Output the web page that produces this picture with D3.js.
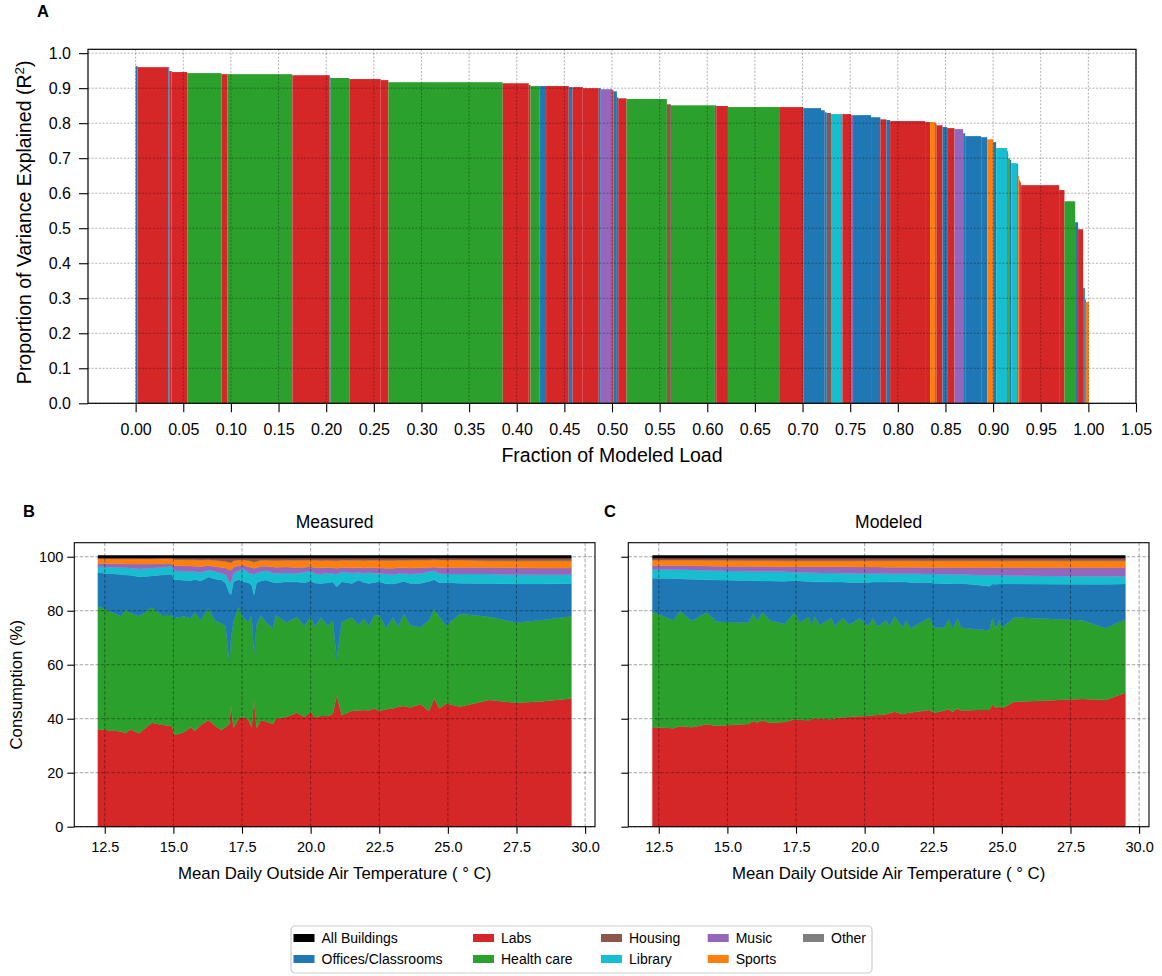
<!DOCTYPE html>
<html>
<head>
<meta charset="utf-8">
<script src="https://cdn.jsdelivr.net/npm/d3@7"></script>
<style>
  body { margin: 0; background: #fff; }
  svg { display: block; font-family: "Liberation Sans", Arial, sans-serif; }
</style>
</head>
<body>
<svg width="1162" height="976"></svg>
<script>
// ---------------- data ----------------
const legendOrder = ["All Buildings", "Offices/Classrooms", "Labs", "Health care", "Housing",
                     "Library", "Music", "Sports", "Other"];
const stackKeys = ["Labs", "Health care", "Offices/Classrooms", "Library", "Music", "Sports", "Housing"];

// panel A: one bar per building, sorted by R^2 (width = fraction of modeled load)
const barCategory = ["O","L","O","L","L","H","L","H","L","O","H","L","L","H","L","L","H","O","L","O",
  "L","L","O","M","L","O","O","L","H","Ho","H","O","L","H","L","O","O","O","Ho","Li",
  "L","M","O","O","L","O","L","L","S","Ho","L","O","L","M","O","O","O","S","O","Li",
  "O","H","O","Li","O","S","L","L","L","L","H","O","L","O","O","S"];
const barWidth = [0.0020,0.0323,0.0010,0.0024,0.0165,0.0360,0.0063,0.0680,0.0392,0.0010,
  0.0196,0.0329,0.0081,0.1200,0.0273,0.0018,0.0098,0.0066,0.0238,0.0039,
  0.0108,0.0168,0.0021,0.0119,0.0015,0.0035,0.0014,0.0088,0.0423,0.0042,
  0.0462,0.0014,0.0123,0.0546,0.0245,0.0186,0.0039,0.0021,0.0045,0.0119,
  0.0091,0.0021,0.0189,0.0098,0.0063,0.0039,0.0367,0.0053,0.0053,0.0014,
  0.0063,0.0049,0.0077,0.0091,0.0021,0.0168,0.0063,0.0063,0.0031,0.0116,
  0.0010,0.0018,0.0014,0.0063,0.0010,0.0011,0.0010,0.0010,0.0399,0.0056,
  0.0112,0.0031,0.0053,0.0018,0.0010,0.0032];
const barR2 = [0.963,0.960,0.960,0.949,0.946,0.943,0.940,0.940,0.937,0.931,
  0.929,0.926,0.923,0.917,0.914,0.909,0.906,0.906,0.906,0.903,
  0.903,0.900,0.900,0.897,0.894,0.891,0.874,0.871,0.869,0.854,
  0.851,0.851,0.849,0.846,0.846,0.843,0.837,0.831,0.829,0.826,
  0.826,0.823,0.823,0.817,0.811,0.809,0.806,0.803,0.803,0.800,
  0.794,0.789,0.786,0.783,0.771,0.763,0.760,0.754,0.746,0.729,
  0.720,0.700,0.695,0.686,0.684,0.649,0.637,0.631,0.623,0.609,
  0.577,0.517,0.497,0.329,0.297,0.289];
const fracTicks = [0.00,0.05,0.10,0.15,0.20,0.25,0.30,0.35,0.40,0.45,0.50,0.55,
                   0.60,0.65,0.70,0.75,0.80,0.85,0.90,0.95,1.00,1.05];
const r2Ticks = [0.0,0.1,0.2,0.3,0.4,0.5,0.6,0.7,0.8,0.9,1.0];

// panel B: measured share of consumption (%) by mean daily temperature
const measuredTemp = [12.25,13.1,13.25,13.44,13.75,14.22,14.56,14.94,15.03,15.38,15.63,15.78,16.0,16.28,
  16.5,16.75,16.9,17.04,17.1,17.19,17.38,17.53,17.73,17.85,17.94,18.03,18.19,18.38,18.63,18.73,
  19.13,19.5,19.78,20.0,20.15,20.38,20.63,20.81,20.95,21.13,21.5,21.75,21.94,22.13,22.31,22.5,
  22.75,23.0,23.19,23.38,23.63,24.0,24.31,24.5,24.69,24.94,25.44,26.5,27.5,28.38,29.5];
const measuredLabs = [36.1,35.3,34.6,36.1,34.6,38.5,37.8,37.3,34.0,35.0,36.8,35.5,37.7,39.5,
  37.5,35.8,36.8,38.0,45.0,36.5,40.1,40.7,39.5,36.8,46.9,36.5,39.5,39.0,38.0,40.0,
  40.7,42.2,40.5,42.6,40.5,41.0,41.0,41.8,48.7,41.3,42.9,43.0,43.2,43.0,43.8,42.9,
  43.5,43.8,44.4,44.7,44.2,45.4,42.9,47.5,43.8,45.6,44.4,46.9,45.9,46.4,47.5];
const measuredHealth = [45.6,42.7,45.9,43.1,43.4,42.7,40.6,41.1,43.2,43.0,40.4,43.8,38.8,41.4,
  39.0,39.5,37.5,23.0,25.0,39.5,41.4,36.8,36.4,41.5,17.1,38.5,38.8,36.6,35.5,38.3,
  34.9,35.6,33.8,35.4,33.6,36.5,33.3,34.7,13.5,34.6,34.6,31.7,33.8,31.3,34.4,35.4,
  30.0,33.7,29.6,34.1,30.5,28.4,33.6,33.1,34.0,28.9,34.4,30.9,29.7,30.1,30.5];
const measuredOffices = [12.4,15.4,12.7,13.9,14.6,11.7,14.8,15.1,14.4,13.3,13.9,12.3,14.5,11.6,
  15.3,16.1,16.1,25.5,16.0,14.7,10.1,13.3,14.5,11.2,21.8,15.4,12.7,15.8,17.0,12.0,
  15.1,12.8,16.1,13.1,16.2,12.6,16.1,14.1,26.7,14.8,12.6,16.7,13.5,15.8,12.3,12.4,
  16.5,12.4,16.3,12.1,15.4,16.3,14.3,10.9,12.6,15.9,11.4,12.3,14.3,13.4,12.1];
const measuredLibrary = [2.2,2.6,2.7,2.7,2.9,2.9,2.8,3.0,3.2,3.3,3.4,2.8,3.2,2.5,
  2.8,2.4,3.1,4.0,4.3,3.3,3.2,4.8,3.7,4.3,7.7,3.6,3.5,3.4,3.5,3.6,
  3.3,3.3,3.9,3.7,3.5,3.5,3.6,3.2,4.6,3.7,3.9,2.8,3.3,4.1,3.4,3.1,
  3.6,3.4,3.5,2.9,3.5,3.7,3.6,3.3,3.4,3.2,3.4,3.5,3.4,3.4,3.2];
const measuredMusic = [1.2,1.4,1.4,1.5,1.8,1.5,1.3,0.8,2.0,2.0,2.1,2.1,2.2,1.7,
  1.8,2.2,2.3,4.7,4.8,2.2,1.9,1.3,2.2,2.2,2.2,2.0,2.0,1.7,2.2,2.2,
  2.2,2.1,1.8,1.5,2.2,2.3,2.0,2.1,2.2,1.6,1.9,1.8,2.0,1.8,2.0,2.1,
  2.1,2.4,2.1,2.1,2.2,2.1,1.6,1.4,2.1,2.4,2.4,2.4,2.6,2.5,2.5];
const measuredSports = [1.8,1.9,2.0,2.0,2.0,2.0,2.1,2.1,2.2,2.3,2.3,2.4,2.4,2.2,
  2.3,2.4,2.5,2.7,2.7,2.3,2.1,2.0,2.3,2.3,2.3,2.3,2.2,2.2,2.4,2.5,
  2.5,2.7,2.6,2.5,2.7,2.7,2.7,2.7,2.8,2.7,2.8,2.7,2.8,2.7,2.8,2.8,
  2.9,2.9,2.8,2.8,2.9,2.9,2.8,2.7,2.9,2.8,2.8,2.5,2.6,2.7,2.7];
const measuredHousing = [0.7,0.7,0.7,0.7,0.7,0.7,0.6,0.6,1.0,1.1,1.1,1.1,1.2,1.1,
  1.3,1.6,1.7,2.1,2.2,1.5,1.2,1.1,1.4,1.7,2.0,1.7,1.3,1.3,1.4,1.4,
  1.3,1.3,1.3,1.2,1.3,1.4,1.3,1.4,1.5,1.3,1.3,1.3,1.4,1.3,1.3,1.3,
  1.4,1.4,1.3,1.3,1.3,1.2,1.2,1.1,1.2,1.2,1.2,1.5,1.5,1.5,1.5];

// panel C: modeled share of consumption (%)
const modeledTemp = [12.27,13.03,13.28,13.7,14.24,14.61,15.76,15.94,16.08,16.28,16.54,17.09,17.45,17.63,
  17.97,18.06,18.18,18.36,18.79,18.91,19.21,19.45,19.81,20.12,20.3,20.48,20.78,20.9,21.09,21.39,
  21.51,21.69,22.36,22.54,22.9,23.06,23.21,23.39,23.51,24.05,24.54,24.66,24.78,24.9,25.02,25.45,
  27.93,28.78,29.5];
const modeledLabs = [36.8,36.5,37.2,36.8,37.9,37.4,38.0,39.1,38.6,39.3,38.5,38.8,39.8,39.6,
  39.4,39.9,40.0,40.1,39.8,40.2,40.5,40.6,40.9,41.0,41.3,41.4,41.7,42.0,42.6,41.7,
  42.0,42.3,43.2,42.2,43.0,43.4,42.6,43.8,43.0,43.2,43.2,45.3,44.0,44.5,44.0,46.3,
  47.3,46.9,49.6];
const modeledHealth = [42.8,40.0,42.7,39.4,41.4,38.5,37.6,39.9,37.6,40.1,38.0,36.3,39.5,36.0,
  38.4,34.8,38.0,34.6,37.4,34.1,36.7,34.1,36.3,33.3,35.9,32.7,34.8,32.1,35.4,32.1,
  34.3,31.2,34.3,31.6,30.8,33.4,30.9,33.4,30.8,29.9,29.6,32.2,29.5,32.0,29.8,31.2,
  29.2,26.6,27.2];
const modeledOffices = [12.4,15.4,11.9,15.5,12.2,15.5,15.6,12.1,14.9,11.6,14.5,15.8,11.9,15.4,
  13.0,16.1,12.7,16.0,13.4,16.3,13.4,15.8,13.3,16.2,13.4,16.5,14.1,16.5,12.7,16.8,
  14.3,17.0,12.9,16.4,16.2,13.2,16.6,12.9,16.3,16.5,16.3,12.4,16.3,13.4,16.1,12.4,
  13.3,16.3,13.1];
const modeledLibrary = [3.3,3.3,3.4,3.4,3.4,3.4,3.4,3.4,3.4,3.5,3.5,3.5,3.1,3.2,
  3.3,3.3,3.4,3.3,3.4,3.4,3.3,3.4,3.3,3.3,3.2,3.2,3.1,3.1,3.0,3.1,
  3.1,3.2,3.2,3.4,3.5,3.5,3.3,3.3,3.3,3.6,4.0,3.2,3.3,3.2,3.2,3.1,
  3.0,3.0,2.9];
const modeledMusic = [1.5,1.6,1.6,1.6,1.7,1.7,1.8,1.9,1.9,1.9,1.8,1.9,2.0,2.1,
  2.2,2.2,2.2,2.3,2.3,2.3,2.4,2.4,2.4,2.4,2.4,2.4,2.4,2.4,2.4,2.4,
  2.4,2.4,2.4,2.4,2.5,2.5,2.6,2.6,2.6,2.8,2.9,2.9,2.9,2.9,2.9,3.0,
  3.2,3.2,3.2];
const modeledSports = [2.0,2.0,2.0,2.1,2.1,2.2,2.2,2.2,2.2,2.2,2.3,2.2,2.2,2.2,
  2.2,2.2,2.2,2.2,2.2,2.2,2.2,2.2,2.3,2.3,2.3,2.3,2.4,2.4,2.4,2.4,
  2.4,2.4,2.5,2.5,2.5,2.5,2.5,2.5,2.5,2.5,2.5,2.5,2.5,2.5,2.5,2.5,
  2.5,2.5,2.5];
const modeledHousing = [1.2,1.2,1.2,1.2,1.3,1.3,1.4,1.4,1.4,1.4,1.4,1.5,1.5,1.5,
  1.5,1.5,1.5,1.5,1.5,1.5,1.5,1.5,1.5,1.5,1.5,1.5,1.5,1.5,1.5,1.5,
  1.5,1.5,1.5,1.5,1.5,1.5,1.5,1.5,1.5,1.5,1.5,1.5,1.5,1.5,1.5,1.5,
  1.5,1.5,1.5];
const tempTicks = [12.5,15.0,17.5,20.0,22.5,25.0,27.5,30.0];
const pctTicks = [0,20,40,60,80,100];

// ---------------- styling ----------------
const catColor = {
  "All Buildings": "#000000", "Offices/Classrooms": "#1f77b4", "Labs": "#d62728",
  "Health care": "#2ca02c", "Housing": "#8c564b", "Library": "#17becf",
  "Music": "#9467bd", "Sports": "#ff7f0e", "Other": "#7f7f7f"
};
const barCode = {O: "Offices/Classrooms", L: "Labs", H: "Health care", Ho: "Housing",
                 Li: "Library", M: "Music", S: "Sports"};

const svg = d3.select("svg");
svg.append("rect").attr("width", 1162).attr("height", 976).attr("fill", "#fff");

function styleAxis(g, size) {
  g.select(".domain").remove();
  g.selectAll(".tick line").attr("stroke", "#000").attr("stroke-width", 1.1);
  g.selectAll(".tick text").attr("fill", "#000").attr("font-size", size)
    .attr("font-family", "'Liberation Sans', Arial, sans-serif");
}

// ---------------- panel A ----------------
const A = {left: 88, right: 1136, top: 49.3, bottom: 403.3};
const xA = d3.scaleLinear().domain([-0.05, 1.05]).range([A.left, A.right]);
const yA = d3.scaleLinear().domain([0, 1.011]).range([A.bottom, A.top]);
const gA = svg.append("g");

const starts = d3.cumsum(barWidth).map((c, i) => c - barWidth[i]);
const bars = barR2.map((r, i) => ({cat: barCode[barCategory[i]], x0: starts[i], w: barWidth[i], r2: r}));

gA.selectAll("rect.bar")
  .data(bars)
  .join("rect")
    .attr("class", "bar")
    .attr("x", d => xA(d.x0))
    .attr("width", d => xA(d.x0 + d.w) - xA(d.x0))
    .attr("y", d => yA(d.r2))
    .attr("height", d => yA(0) - yA(d.r2))
    .attr("fill", d => catColor[d.cat]);

// grid on top of bars
gA.append("g").selectAll("line")
  .data(fracTicks)
  .join("line")
    .attr("x1", d => xA(d)).attr("x2", d => xA(d))
    .attr("y1", A.top).attr("y2", A.bottom)
    .attr("stroke", "#000").attr("stroke-opacity", 0.35)
    .attr("stroke-width", 0.9).attr("stroke-dasharray", "2,1.6");
gA.append("g").selectAll("line")
  .data(r2Ticks)
  .join("line")
    .attr("x1", A.left).attr("x2", A.right)
    .attr("y1", d => yA(d)).attr("y2", d => yA(d))
    .attr("stroke", "#000").attr("stroke-opacity", 0.35)
    .attr("stroke-width", 0.9).attr("stroke-dasharray", "2,1.6");

gA.append("g")
  .attr("transform", `translate(0,${A.bottom})`)
  .call(d3.axisBottom(xA).tickValues(fracTicks).tickFormat(d3.format(".2f")).tickSize(9).tickPadding(11))
  .call(g => styleAxis(g, 16));
gA.append("g")
  .attr("transform", `translate(${A.left},0)`)
  .call(d3.axisLeft(yA).tickValues(r2Ticks).tickFormat(d3.format(".1f")).tickSize(9).tickPadding(8))
  .call(g => styleAxis(g, 16));

gA.append("rect")
  .attr("x", A.left).attr("y", A.top)
  .attr("width", A.right - A.left).attr("height", A.bottom - A.top)
  .attr("fill", "none").attr("stroke", "#000").attr("stroke-width", 1.2);

gA.append("text")
  .attr("x", (A.left + A.right) / 2).attr("y", 462)
  .attr("text-anchor", "middle").attr("font-size", 19.5)
  .text("Fraction of Modeled Load");

const yLabA = gA.append("text")
  .attr("transform", `translate(31,${(A.top + A.bottom) / 2 - 4}) rotate(-90)`)
  .attr("text-anchor", "middle").attr("font-size", 19.5);
yLabA.append("tspan").text("Proportion of Variance Explained (R");
yLabA.append("tspan").attr("dy", -7).attr("font-size", 13.5).text("2");
yLabA.append("tspan").attr("dy", 7).text(")");

svg.append("text").attr("x", 37).attr("y", 17)
  .attr("font-size", 16.5).attr("font-weight", "bold").text("A");

// ---------------- panels B and C ----------------
function stackPanel(left, title, letter, letterX, temps, series, showYLabels) {
  const P = {left: left, right: left + 520.7, top: 542.7, bottom: 826.7};
  const x = d3.scaleLinear().domain([11.39, 30.36]).range([P.left, P.right]);
  const y = d3.scaleLinear().domain([0, 105.2]).range([P.bottom, P.top]);
  const g = svg.append("g");

  const rows = temps.map((t, i) => {
    const r = {t: t};
    stackKeys.forEach(k => r[k] = series[k][i]);
    return r;
  });
  const layers = d3.stack().keys(stackKeys)(rows);

  const area = d3.area()
    .x(d => x(d.data.t))
    .y0(d => y(d[0]))
    .y1(d => y(d[1]));

  g.selectAll("path.layer")
    .data(layers)
    .join("path")
      .attr("class", "layer")
      .attr("d", area)
      .attr("fill", d => catColor[d.key])
      .attr("stroke", d => catColor[d.key])
      .attr("stroke-width", 0.4);

  // all buildings total
  g.append("path")
    .datum(layers[layers.length - 1])
    .attr("d", d3.line().x(d => x(d.data.t)).y(d => y(d[1])))
    .attr("fill", "none")
    .attr("stroke", catColor["All Buildings"])
    .attr("stroke-width", 3);

  // grid
  g.append("g").selectAll("line")
    .data(tempTicks)
    .join("line")
      .attr("x1", d => x(d)).attr("x2", d => x(d))
      .attr("y1", P.top).attr("y2", P.bottom)
      .attr("stroke", "#000").attr("stroke-opacity", 0.4)
      .attr("stroke-width", 0.9).attr("stroke-dasharray", "3.5,1.8");
  g.append("g").selectAll("line")
    .data(pctTicks)
    .join("line")
      .attr("x1", P.left).attr("x2", P.right)
      .attr("y1", d => y(d)).attr("y2", d => y(d))
      .attr("stroke", "#000").attr("stroke-opacity", 0.4)
      .attr("stroke-width", 0.9).attr("stroke-dasharray", "3.5,1.8");

  g.append("g")
    .attr("transform", `translate(0,${P.bottom})`)
    .call(d3.axisBottom(x).tickValues(tempTicks).tickFormat(d3.format(".1f")).tickSize(7).tickPadding(8))
    .call(gg => styleAxis(gg, 14.5));
  g.append("g")
    .attr("transform", `translate(${P.left},0)`)
    .call(d3.axisLeft(y).tickValues(pctTicks).tickFormat(showYLabels ? d3.format("d") : () => "")
      .tickSize(7).tickPadding(4))
    .call(gg => styleAxis(gg, 14.5));

  g.append("rect")
    .attr("x", P.left).attr("y", P.top)
    .attr("width", P.right - P.left).attr("height", P.bottom - P.top)
    .attr("fill", "none").attr("stroke", "#000").attr("stroke-width", 1.1);

  g.append("text")
    .attr("x", (P.left + P.right) / 2).attr("y", 528)
    .attr("text-anchor", "middle").attr("font-size", 17.5)
    .text(title);
  g.append("text")
    .attr("x", (P.left + P.right) / 2).attr("y", 879)
    .attr("text-anchor", "middle").attr("font-size", 16.8)
    .text("Mean Daily Outside Air Temperature ( \u00b0 C)");
  if (showYLabels) {
    g.append("text")
      .attr("transform", `translate(22,${(P.top + P.bottom) / 2}) rotate(-90)`)
      .attr("text-anchor", "middle").attr("font-size", 16.8)
      .text("Consumption (%)");
  }
  svg.append("text").attr("x", letterX).attr("y", 517)
    .attr("font-size", 16.5).attr("font-weight", "bold").text(letter);
}

stackPanel(74.3, "Measured", "B", 23, measuredTemp, {
  "Labs": measuredLabs, "Health care": measuredHealth, "Offices/Classrooms": measuredOffices,
  "Library": measuredLibrary, "Music": measuredMusic, "Sports": measuredSports, "Housing": measuredHousing
}, true);
stackPanel(628.3, "Modeled", "C", 604, modeledTemp, {
  "Labs": modeledLabs, "Health care": modeledHealth, "Offices/Classrooms": modeledOffices,
  "Library": modeledLibrary, "Music": modeledMusic, "Sports": modeledSports, "Housing": modeledHousing
}, false);

// ---------------- legend ----------------
const legend = svg.append("g");
legend.append("rect")
  .attr("x", 291).attr("y", 926).attr("width", 581).attr("height", 47).attr("rx", 4)
  .attr("fill", "#fff").attr("stroke", "#cccccc").attr("stroke-width", 1.2);
const colX = [293.5, 473, 601, 707.7, 803];
const rowY = [938, 959];
const item = legend.selectAll("g.item")
  .data(legendOrder)
  .join("g")
    .attr("class", "item")
    .attr("transform", (d, i) => `translate(${colX[Math.floor(i / 2)]},${rowY[i % 2]})`);
item.append("rect")
  .attr("x", 0).attr("y", -4).attr("width", 21).attr("height", 8)
  .attr("fill", d => catColor[d]);
item.append("text")
  .attr("x", 28).attr("y", 5).attr("font-size", 14)
  .text(d => d);
</script>
</body>
</html>
